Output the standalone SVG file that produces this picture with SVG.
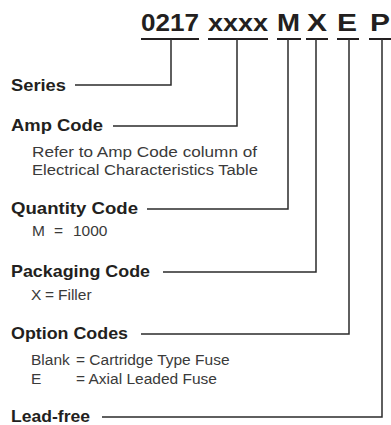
<svg xmlns="http://www.w3.org/2000/svg" width="391" height="425" viewBox="0 0 391 425">
<style>
  .code{font-family:"Liberation Sans",Arial,sans-serif;font-weight:bold;font-size:24px;fill:#231f20}
  .lbl{font-family:"Liberation Sans",Arial,sans-serif;font-weight:bold;font-size:17px;fill:#231f20}
  .sub{font-family:"Liberation Sans",Arial,sans-serif;font-size:15.5px;fill:#3a3a3a}
  .ul{stroke:#231f20;stroke-width:2;fill:none}
  .conn{stroke:#2b2b2b;stroke-width:1.5;fill:none}
</style>
<rect width="391" height="425" fill="#ffffff"/>
<g id="part-number">
  <text class="code" x="141" y="31" textLength="58" lengthAdjust="spacingAndGlyphs">0217</text>
  <text class="code" x="208" y="31" textLength="60" lengthAdjust="spacingAndGlyphs">xxxx</text>
  <text class="code" x="277" y="31" textLength="23" lengthAdjust="spacingAndGlyphs">M</text>
  <text class="code" x="307" y="31" textLength="20" lengthAdjust="spacingAndGlyphs">X</text>
  <text class="code" x="337" y="31" textLength="20" lengthAdjust="spacingAndGlyphs">E</text>
  <text class="code" x="370" y="31" textLength="20" lengthAdjust="spacingAndGlyphs">P</text>
  <path class="ul" d="M141,39H199M208,39H268M277,39H301M306,39H328M337,39H359M369,39H391"/>
</g>
<g id="connectors">
  <path class="conn" d="M171,39V85H75"/>
  <path class="conn" d="M237,39V126H113"/>
  <path class="conn" d="M288,39V209H147"/>
  <path class="conn" d="M316,39V272H163"/>
  <path class="conn" d="M349,39V334H141"/>
  <path class="conn" d="M382,39V417H102"/>
</g>
<g id="series">
  <text class="lbl" x="11" y="91" textLength="55" lengthAdjust="spacingAndGlyphs">Series</text>
</g>
<g id="amp-code">
  <text class="lbl" x="11" y="131" textLength="92" lengthAdjust="spacingAndGlyphs">Amp Code</text>
  <text class="sub" x="32" y="157" textLength="225" lengthAdjust="spacingAndGlyphs">Refer to Amp Code column of</text>
  <text class="sub" x="32" y="175" textLength="226" lengthAdjust="spacingAndGlyphs">Electrical Characteristics Table</text>
</g>
<g id="quantity-code">
  <text class="lbl" x="11" y="214" textLength="127" lengthAdjust="spacingAndGlyphs">Quantity Code</text>
  <text class="sub" y="236"><tspan x="32">M</tspan><tspan x="54">=</tspan><tspan x="73">1000</tspan></text>
</g>
<g id="packaging-code">
  <text class="lbl" x="11" y="277" textLength="139" lengthAdjust="spacingAndGlyphs">Packaging Code</text>
  <text class="sub" y="300"><tspan x="31">X</tspan><tspan x="45">=</tspan><tspan x="58">Filler</tspan></text>
</g>
<g id="option-codes">
  <text class="lbl" x="11" y="339" textLength="117" lengthAdjust="spacingAndGlyphs">Option Codes</text>
  <text class="sub" y="365"><tspan x="31">Blank</tspan><tspan x="76">= Cartridge Type Fuse</tspan></text>
  <text class="sub" y="384"><tspan x="31">E</tspan><tspan x="76">= Axial Leaded Fuse</tspan></text>
</g>
<g id="lead-free">
  <text class="lbl" x="11" y="422" textLength="79" lengthAdjust="spacingAndGlyphs">Lead-free</text>
</g>
</svg>
